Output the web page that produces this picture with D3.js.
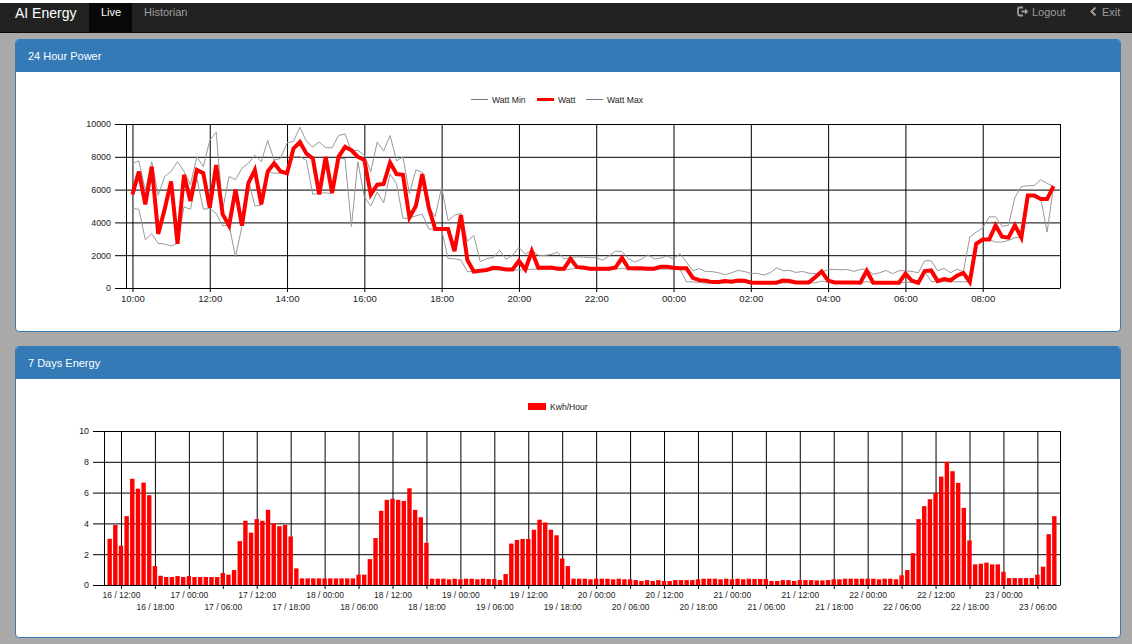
<!DOCTYPE html>
<html>
<head>
<meta charset="utf-8">
<title>AI Energy</title>
<script src="https://cdn.jsdelivr.net/npm/d3@7"></script>
<style>
    html, body { margin: 0; padding: 0; width: 1132px; height: 644px; overflow: hidden; background: #a9a9a9; font-family: "Liberation Sans", Arial, sans-serif; }
    .top-strip { position: absolute; left: 0; top: 0; width: 1132px; height: 3px; background: #fff; }
    .navbar { position: absolute; left: 0; top: 3px; width: 1132px; height: 29px; background: #222; border-bottom: 1px solid #080808; }
    .nav-text { position: absolute; font-size: 11px; line-height: 13px; top: 3px; color: #9d9d9d; white-space: nowrap; }
    .brand { left: 15px; top: 1px; font-size: 14px; line-height: 18px; color: #fff; }
    .active-tab { position: absolute; left: 89px; top: 0; width: 43px; height: 29px; background: #080808; }
    .panel { position: absolute; left: 15px; width: 1104px; background: #fff; border: 1px solid #337ab7; border-radius: 4px; overflow: hidden; }
    .panel-heading { height: 32px; background: #337ab7; color: #fff; font-size: 11px; line-height: 33px; padding-left: 12px; }
    .panel svg { display: block; }
    .tick text, .legend text { font-family: "Liberation Sans", Arial, sans-serif; fill: #222; }
    .tick line, .domain { stroke: #000; }
</style>
</head>
<body>
<div class="top-strip"></div>
<div class="navbar">
    <div class="active-tab"></div>
    <div class="nav-text brand">AI Energy</div>
    <div class="nav-text" style="left:101px;color:#fff">Live</div>
    <div class="nav-text" style="left:144px">Historian</div>
    <svg style="position:absolute;left:1017px;top:3px" width="13" height="12">
        <path d="M6 1.5H2.5Q1 1.5 1 3V8Q1 9.5 2.5 9.5H6" fill="none" stroke="#9d9d9d" stroke-width="1.8"></path>
        <path d="M4.5 4.5H8V2.5L11.5 5.5L8 8.5V6.5H4.5Z" fill="#9d9d9d"></path>
    </svg>
    <div class="nav-text" style="left:1032px">Logout</div>
    <svg style="position:absolute;left:1089px;top:3px" width="9" height="12">
        <path d="M6.5 1.5L2.5 5.5L6.5 9.5" fill="none" stroke="#9d9d9d" stroke-width="2"></path>
    </svg>
    <div class="nav-text" style="left:1102px">Exit</div>
</div>

<div class="panel" id="power" style="top:39px;height:291px">
    <div class="panel-heading">24 Hour Power</div>
</div>
<div class="panel" id="energy" style="top:346px;height:290px">
    <div class="panel-heading">7 Days Energy</div>
</div>

<script>
    // 10 minute samples, starts 10:00, one row = 2 hours
    const wattValues = [
        5700, 7100, 5100, 7400, 3300, 4800, 6500, 2700, 6900, 5300, 7200, 7000,
        4900, 7500, 4500, 3800, 6000, 3800, 6400, 7200, 5100, 7100, 7600, 7100,
        7000, 8500, 8900, 8200, 7900, 5700, 8000, 5800, 8000, 8600, 8400, 8000,
        7800, 5700, 6300, 6350, 7650, 6950, 6900, 4300, 5000, 6950, 4900, 3600,
        3600, 3600, 2250, 4450, 1700, 1000, 1050, 1100, 1230, 1200, 1130, 1130,
        1650, 1130, 2250, 1230, 1230, 1250, 1180, 1180, 1780, 1270, 1250, 1180,
        1180, 1180, 1180, 1250, 1840, 1200, 1200, 1200, 1180, 1180, 1290, 1290,
        1230, 1210, 1200, 620, 480, 440, 360, 360, 420, 380, 460, 440,
        340, 320, 320, 320, 320, 460, 430, 340, 340, 340, 650, 1000,
        450, 340, 340, 330, 330, 320, 1050, 320, 320, 320, 320, 320,
        870, 440, 320, 1030, 1070, 420, 540, 470, 750, 920, 370, 2700,
        2950, 2950, 3820, 3130, 3070, 3820, 3070, 5640, 5640, 5420, 5420, 6210
    ];
    const wattMinValues = [
        4850, 4800, 2950, 3300, 2720, 2680, 2560, 2720, 4950, 4800, 6700, 4800,
        4850, 4550, 3800, 3850, 1900, 3750, 6600, 5000, 5050, 7100, 7000, 7000,
        7000, 8000, 8000, 7800, 5700, 5800, 5800, 5750, 7900, 7900, 3750, 7700,
        5550, 5000, 5850, 5200, 6950, 6350, 4250, 4250, 4400, 4500, 3600, 3550,
        3550, 1800, 1780, 1700, 1000, 1000, 1000, 1050, 1100, 1100, 1080, 1080,
        1100, 1100, 1150, 1150, 1150, 1150, 1100, 1100, 1150, 1200, 1150, 1100,
        1100, 1100, 1100, 1150, 1200, 1150, 1100, 1100, 1100, 1100, 1150, 1150,
        1150, 1150, 380, 380, 330, 300, 300, 300, 320, 320, 340, 340,
        300, 300, 300, 300, 300, 300, 320, 300, 300, 300, 320, 420,
        350, 300, 300, 300, 300, 300, 400, 300, 300, 300, 300, 300,
        350, 340, 300, 1000, 400, 380, 380, 380, 380, 380, 370, 2700,
        2900, 2950, 2800, 2800, 2900, 3070, 3110, 5570, 5570, 5490, 3410, 6180
    ];
    const wattMaxValues = [
        7600, 7750, 5950, 7700, 5650, 6800, 7100, 7700, 7100, 6300, 8000, 7400,
        9000, 9500, 4750, 6800, 6600, 7300, 7600, 8100, 7700, 9000, 7800, 7900,
        8850, 8950, 9800, 8950, 8600, 8900, 8550, 8550, 9300, 9400, 8350, 8400,
        8100, 7100, 8900, 8350, 9300, 7750, 8000, 5750, 7200, 7050, 4950, 4350,
        6150, 4100, 4450, 4550, 2850, 3200, 1600, 1800, 1850, 2300, 1750, 2000,
        2470, 2070, 2300, 2000, 1980, 2050, 2180, 1780, 1850, 1900, 1880, 1850,
        1840, 1700, 1950, 2250, 2220, 1800, 1580, 1750, 2020, 1780, 1820, 1950,
        1760, 2100, 1580, 1050, 1180, 1000, 1000, 930, 810, 930, 1070, 1010,
        890, 890, 790, 930, 1230, 1050, 1070, 950, 1010, 910, 870, 950,
        1130, 1130, 1110, 1130, 1010, 1130, 1150, 830, 930, 1070, 870, 1050,
        1050, 1010, 930, 1660, 1660, 1050, 1190, 930, 1150, 990, 3110, 3410,
        3650, 4340, 4340, 3760, 3820, 5530, 6180, 6240, 6240, 6600, 6380, 6180
    ];
    const powerTicks = [0, 2000, 4000, 6000, 8000, 10000];

    // hourly bars, starts on the 16th at 10:00
    const kwhValues = [
        3.0, 3.9, 2.55, 4.47, 6.9, 6.25, 6.65, 5.83, 1.23, 0.6, 0.52, 0.52, 0.58, 0.52, 0.58, 0.52, 0.52, 0.52, 0.52, 0.52,
        0.78, 0.67, 0.97, 2.85, 4.17, 3.4, 4.28, 4.17, 4.88, 4.0, 3.82, 3.9, 3.15, 1.08,
        0.43, 0.43, 0.43, 0.43, 0.43, 0.43, 0.43, 0.43, 0.43, 0.43,
        0.67, 0.67, 1.68, 3.05, 4.82, 5.53, 5.6, 5.53, 5.46, 6.28, 4.88, 4.4, 2.74,
        0.41, 0.41, 0.41, 0.37, 0.41, 0.37, 0.41, 0.41, 0.37, 0.41, 0.39, 0.39, 0.32, 0.71,
        2.69, 2.92, 2.99, 2.99, 3.59, 4.24, 4.06, 3.59, 3.23, 1.72, 1.23,
        0.41, 0.41, 0.41, 0.37, 0.41, 0.41, 0.41, 0.37, 0.41, 0.37, 0.37, 0.32, 0.26, 0.32, 0.26, 0.32, 0.26, 0.26,
        0.32, 0.32, 0.32, 0.32, 0.37, 0.41, 0.41, 0.41, 0.37, 0.41, 0.37, 0.41, 0.37, 0.41,
        0.39, 0.39, 0.39, 0.26, 0.26, 0.32, 0.32, 0.26, 0.32, 0.32, 0.32, 0.3, 0.3, 0.32, 0.37, 0.37,
        0.41, 0.41, 0.41, 0.41, 0.41, 0.41, 0.37, 0.41, 0.41, 0.37, 0.63, 0.97,
        2.07, 4.28, 5.12, 5.57, 5.98, 7.04, 8.0, 7.39, 6.63, 5.01, 2.89,
        1.34, 1.38, 1.45, 1.34, 1.34, 0.86, 0.45, 0.45, 0.45, 0.45, 0.45, 0.67, 1.19, 3.3, 4.47
    ];
    const energyTicks = [0, 2, 4, 6, 8, 10];

    // Draw the grid + axes for one chart
    function drawAxes(svg, x, y, width, height, xTicks, xFormat, yTicks) {
        const xAxis = svg.append("g")
            .attr("transform", "translate(0," + height + ")")
            .call(d3.axisBottom(x).tickValues(xTicks).tickFormat(xFormat).tickSizeOuter(0));
        xAxis.selectAll(".tick line").attr("y1", -height).attr("y2", 4);

        const yAxis = svg.append("g")
            .call(d3.axisLeft(y).tickValues(yTicks).tickFormat(d3.format("d")).tickSizeOuter(0));
        yAxis.selectAll(".tick line").attr("x1", -11).attr("x2", width);
        yAxis.selectAll(".tick text").attr("x", -15).style("font-size", "8.9px");

        // left + right border of the plot
        svg.append("g").selectAll("line")
            .data([0, width])
            .enter().append("line")
            .attr("x1", d => d + 0.5)
            .attr("x2", d => d + 0.5)
            .attr("y1", 0)
            .attr("y2", height)
            .attr("stroke", "#000");
        return xAxis;
    }

    // ---- 24 Hour Power ----
    const powerMargin = { top: 52, left: 110 }, powerWidth = 934, powerHeight = 164;
    const powerSvg = d3.select("#power").append("svg")
        .attr("width", 1104)
        .attr("height", 258);
    const powerG = powerSvg.append("g")
        .attr("transform", "translate(" + powerMargin.left + "," + powerMargin.top + ")");

    const powerStart = new Date(2016, 4, 16, 10, 0);
    const sampleTime = i => d3.timeMinute.offset(powerStart, i * 10);
    const powerX = d3.scaleTime()
        .domain([sampleTime(-1), sampleTime(wattValues.length)])
        .range([0, powerWidth]);
    const powerY = d3.scaleLinear().domain([0, 10000]).range([powerHeight, 0]);

    const powerAxis = drawAxes(powerG, powerX, powerY, powerWidth, powerHeight,
        d3.timeHour.every(2).range(powerStart, sampleTime(wattValues.length)),
        d3.timeFormat("%H:%M"), powerTicks);
    powerAxis.selectAll(".tick text").attr("y", 7).style("font-size", "9.6px");

    const powerLine = d3.line()
        .x((d, i) => powerX(sampleTime(i)))
        .y(d => powerY(d));

    const powerSeries = [
        { name: "Watt Min", values: wattMinValues, color: "#999", stroke: 1 },
        { name: "Watt", values: wattValues, color: "#f00", stroke: 4 },
        { name: "Watt Max", values: wattMaxValues, color: "#999", stroke: 1 }
    ];
    // red goes last so it sits on top
    [powerSeries[0], powerSeries[2], powerSeries[1]].forEach((s) => {
        powerG.append("path")
            .attr("d", powerLine(s.values))
            .attr("fill", "none")
            .attr("stroke", s.color)
            .attr("stroke-width", s.stroke);
    });

    // legend, x is the start of each line sample
    const powerLegend = powerSvg.append("g").attr("class", "legend");
    const powerLegendX = [455, 521, 570];
    powerSeries.forEach((s, i) => {
        powerLegend.append("line")
            .attr("x1", powerLegendX[i])
            .attr("x2", powerLegendX[i] + 17)
            .attr("y1", 27.5)
            .attr("y2", 27.5)
            .attr("stroke", s.stroke > 1 ? s.color : "#777")
            .attr("stroke-width", s.stroke > 1 ? 3 : 1);
        powerLegend.append("text")
            .attr("x", powerLegendX[i] + 21)
            .attr("y", 30.5)
            .style("font-size", "8.6px")
            .text(s.name);
    });

    // ---- 7 Days Energy ----
    const energyMargin = { top: 52, left: 88 }, energyWidth = 956, energyHeight = 154;
    const energySvg = d3.select("#energy").append("svg")
        .attr("width", 1104)
        .attr("height", 258);
    const energyG = energySvg.append("g")
        .attr("transform", "translate(" + energyMargin.left + "," + energyMargin.top + ")");

    const energyStart = new Date(2016, 4, 16, 10, 0);
    const barTime = i => d3.timeHour.offset(energyStart, i);
    const energyX = d3.scaleTime()
        .domain([barTime(-1), barTime(kwhValues.length)])
        .range([0, energyWidth]);
    const energyY = d3.scaleLinear().domain([0, 10]).range([energyHeight, 0]);

    const energyAxis = drawAxes(energyG, energyX, energyY, energyWidth, energyHeight,
        d3.timeHour.every(6).range(energyStart, barTime(kwhValues.length)),
        d3.timeFormat("%d / %H:%M"), energyTicks);
    // every second label drops to a second row
    energyAxis.selectAll(".tick text")
        .attr("y", (d, i) => i % 2 ? 19 : 7)
        .style("font-size", "8.5px");

    const barWidth = 4.4;
    energyG.append("g").selectAll("rect")
        .data(kwhValues)
        .enter().append("rect")
        .attr("x", (d, i) => energyX(barTime(i)) - barWidth / 2)
        .attr("y", d => energyY(d))
        .attr("width", barWidth)
        .attr("height", d => energyHeight - energyY(d))
        .attr("fill", "#f00");

    const energyLegend = energySvg.append("g").attr("class", "legend");
    energyLegend.append("rect")
        .attr("x", 512)
        .attr("y", 24)
        .attr("width", 18)
        .attr("height", 7)
        .attr("fill", "#f00");
    energyLegend.append("text")
        .attr("x", 534)
        .attr("y", 31)
        .style("font-size", "8.6px")
        .text("Kwh/Hour");
</script>
</body>
</html>
